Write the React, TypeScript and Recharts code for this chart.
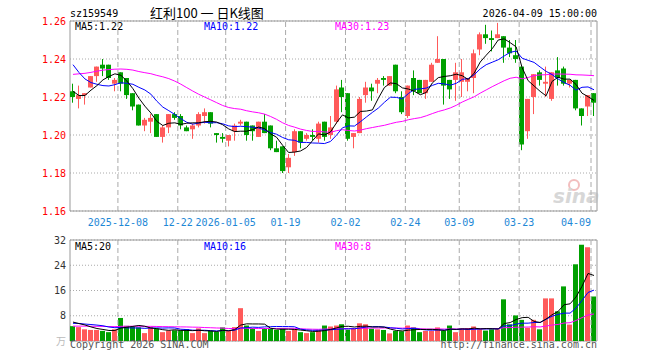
import React from "react";
import {
  ComposedChart,
  Bar,
  Line,
  XAxis,
  YAxis,
  CartesianGrid,
  ReferenceLine,
  ReferenceArea,
} from "recharts";

const RED = "#FF5A5A";
const GREEN = "#00A000";
const GRID = "#aaaaaa";
const FRAME = "#999999";
const MONO = '"DejaVu Sans Mono", monospace';
const CJK = '"Noto Sans CJK SC", sans-serif';

const PLOT_LEFT = 70;
const PLOT_RIGHT = 597;

// trading days shown
const dates = [
  "2025-11-26", "2025-11-27", "2025-11-28", "2025-12-01", "2025-12-02", "2025-12-03", "2025-12-04", "2025-12-05",
  "2025-12-08", "2025-12-09", "2025-12-10", "2025-12-11", "2025-12-12",
  "2025-12-15", "2025-12-16", "2025-12-17", "2025-12-18", "2025-12-19",
  "2025-12-22", "2025-12-23", "2025-12-24", "2025-12-25", "2025-12-26",
  "2025-12-29", "2025-12-30", "2025-12-31",
  "2026-01-05", "2026-01-06", "2026-01-07", "2026-01-08", "2026-01-09",
  "2026-01-12", "2026-01-13", "2026-01-14", "2026-01-15", "2026-01-16",
  "2026-01-19", "2026-01-20", "2026-01-21", "2026-01-22", "2026-01-23",
  "2026-01-26", "2026-01-27", "2026-01-28", "2026-01-29", "2026-01-30",
  "2026-02-02", "2026-02-03", "2026-02-04", "2026-02-05", "2026-02-06",
  "2026-02-09", "2026-02-10", "2026-02-11", "2026-02-12", "2026-02-13",
  "2026-02-24", "2026-02-25", "2026-02-26", "2026-02-27",
  "2026-03-02", "2026-03-03", "2026-03-04", "2026-03-05", "2026-03-06",
  "2026-03-09", "2026-03-10", "2026-03-11", "2026-03-12", "2026-03-13",
  "2026-03-16", "2026-03-17", "2026-03-18", "2026-03-19", "2026-03-20",
  "2026-03-23", "2026-03-24", "2026-03-25", "2026-03-26", "2026-03-27",
  "2026-03-30", "2026-03-31", "2026-04-01", "2026-04-02", "2026-04-03",
  "2026-04-07", "2026-04-08", "2026-04-09",
];

const opens = [
  1.223, 1.219, 1.221, 1.225, 1.231, 1.237, 1.237, 1.227, 1.233, 1.23,
  1.222, 1.216, 1.205, 1.207, 1.211, 1.199, 1.204, 1.211, 1.21, 1.204,
  1.203, 1.205, 1.21, 1.212, 1.201, 1.199, 1.197, 1.202, 1.206, 1.207,
  1.205, 1.199, 1.207, 1.205, 1.193, 1.194, 1.183, 1.191, 1.202, 1.198,
  1.2, 1.198, 1.207, 1.2, 1.207, 1.225, 1.222, 1.199, 1.201, 1.221,
  1.225, 1.227, 1.23, 1.226, 1.237, 1.22, 1.21, 1.23, 1.229, 1.222,
  1.228, 1.238, 1.24, 1.229, 1.229, 1.228, 1.228, 1.23, 1.245, 1.253,
  1.251, 1.251, 1.252, 1.246, 1.242, 1.236, 1.202, 1.22, 1.233, 1.227,
  1.219, 1.234, 1.235, 1.227, 1.229, 1.214, 1.215, 1.222,
];
const highs = [
  1.227, 1.226, 1.222, 1.231, 1.236, 1.24, 1.237, 1.23, 1.233, 1.23,
  1.222, 1.216, 1.209, 1.211, 1.211, 1.205, 1.211, 1.212, 1.211, 1.205,
  1.206, 1.212, 1.214, 1.212, 1.201, 1.201, 1.2, 1.206, 1.208, 1.207,
  1.205, 1.207, 1.211, 1.205, 1.197, 1.194, 1.19, 1.203, 1.202, 1.201,
  1.203, 1.207, 1.207, 1.21, 1.226, 1.229, 1.222, 1.201, 1.22, 1.228,
  1.227, 1.23, 1.231, 1.231, 1.237, 1.223, 1.226, 1.234, 1.229, 1.229,
  1.238, 1.252, 1.24, 1.229, 1.238, 1.24, 1.23, 1.245, 1.254, 1.258,
  1.255, 1.259, 1.252, 1.25, 1.25, 1.236, 1.219, 1.232, 1.234, 1.236,
  1.233, 1.241, 1.236, 1.229, 1.229, 1.214, 1.221, 1.222,
];
const lows = [
  1.217, 1.214, 1.216, 1.225, 1.228, 1.231, 1.229, 1.223, 1.223, 1.219,
  1.213, 1.205, 1.202, 1.201, 1.199, 1.196, 1.201, 1.208, 1.203, 1.202,
  1.198, 1.204, 1.206, 1.204, 1.196, 1.196, 1.194, 1.197, 1.205, 1.197,
  1.197, 1.199, 1.201, 1.192, 1.191, 1.18, 1.18, 1.189, 1.193, 1.197,
  1.197, 1.196, 1.197, 1.198, 1.206, 1.212, 1.197, 1.193, 1.201, 1.217,
  1.218, 1.222, 1.226, 1.226, 1.222, 1.211, 1.209, 1.221, 1.222, 1.219,
  1.228, 1.238, 1.216, 1.219, 1.218, 1.22, 1.223, 1.222, 1.242, 1.248,
  1.244, 1.251, 1.238, 1.241, 1.238, 1.192, 1.198, 1.211, 1.226, 1.22,
  1.218, 1.226, 1.226, 1.225, 1.213, 1.205, 1.21, 1.21,
];
const closes = [
  1.22, 1.221, 1.222, 1.231, 1.236, 1.235, 1.23, 1.229, 1.227, 1.221,
  1.215, 1.205, 1.208, 1.209, 1.199, 1.204, 1.211, 1.209, 1.205, 1.202,
  1.205, 1.211, 1.212, 1.206, 1.2, 1.198, 1.2, 1.205, 1.207, 1.2,
  1.202, 1.207, 1.201, 1.193, 1.191, 1.181, 1.188, 1.202, 1.196, 1.2,
  1.199, 1.206, 1.199, 1.204, 1.224, 1.22, 1.198, 1.201, 1.219, 1.225,
  1.223, 1.229, 1.229, 1.231, 1.223, 1.212, 1.226, 1.223, 1.222, 1.229,
  1.237, 1.24, 1.226, 1.224, 1.233, 1.233, 1.23, 1.243, 1.253, 1.251,
  1.25, 1.253, 1.246, 1.243, 1.24, 1.195, 1.219, 1.232, 1.229, 1.228,
  1.233, 1.23, 1.227, 1.229, 1.214, 1.21, 1.221, 1.217,
];
// volume, in 10k (万)
const volumes = [
  4.7, 4.4, 3.7, 3.5, 3.5, 3.2, 2.8, 3.7, 7.3, 4.8,
  4.5, 4.3, 2.5, 4.4, 3.9, 2.8, 3.3, 3.4, 3.4, 3.8,
  2.5, 4.0, 2.5, 3.2, 2.9, 4.3, 3.2, 4.4, 10.4, 4.9,
  4.1, 3.2, 4.1, 3.9, 3.5, 4.0, 3.2, 3.8, 2.8, 2.5,
  2.8, 3.5, 4.9, 4.6, 4.9, 5.3, 3.6, 3.8, 5.6, 5.3,
  3.9, 3.7, 3.5, 2.4, 3.2, 3.1, 4.9, 4.3, 2.8, 3.2,
  3.2, 4.3, 3.2, 4.9, 2.8, 4.0, 4.1, 4.6, 3.7, 3.3,
  3.7, 3.7, 13.2, 5.3, 8.1, 6.7, 4.2, 6.7, 3.7, 13.5,
  13.5, 9.4, 17.3, 5.2, 24.3, 30.5, 29.7, 14.1,
];

// the 29 sessions before the window, estimated from where the averages start
const closesBefore = [
  1.212, 1.214, 1.216, 1.217, 1.219, 1.221, 1.223, 1.224, 1.226, 1.227,
  1.228, 1.226, 1.225, 1.226, 1.226, 1.24, 1.248, 1.253, 1.257, 1.259,
  1.262, 1.256, 1.25, 1.245, 1.242, 1.232, 1.222, 1.217, 1.224,
];
const volumesBefore = [
  3.8, 4.2, 4.6, 4.0, 3.9, 4.4, 4.1, 4.5, 4.3, 3.9,
  4.6, 4.2, 4.0, 4.8, 4.3, 4.1, 4.4, 4.2, 4.5, 4.2,
  4.8, 5.6, 5.0, 5.3, 5.3, 6.8, 5.9, 6.6, 6.0,
];

const tickDates = [
  "2025-12-08", "2025-12-22", "2026-01-05", "2026-01-19", "2026-02-02",
  "2026-02-24", "2026-03-09", "2026-03-23", "2026-04-09",
];
const tickLabels = [
  "2025-12-08", "12-22", "2026-01-05", "01-19", "02-02",
  "02-24", "03-09", "03-23", "04-09",
];
const priceTicks = [1.16, 1.18, 1.2, 1.22, 1.24, 1.26];
const volumeTicks = [0, 8, 16, 24, 32];

function movingAverage(values: number[], before: number[], n: number) {
  const all = [...before, ...values];
  return values.map((_, i) => {
    const end = before.length + i + 1;
    const win = all.slice(Math.max(0, end - n), end);
    return win.reduce((a, b) => a + b, 0) / win.length;
  });
}

const ma5 = movingAverage(closes, closesBefore, 5);
const ma10 = movingAverage(closes, closesBefore, 10);
const ma30 = movingAverage(closes, closesBefore, 30);
const vma5 = movingAverage(volumes, volumesBefore, 5);
const vma10 = movingAverage(volumes, volumesBefore, 10);
const vma30 = movingAverage(volumes, volumesBefore, 30);

const rows = dates.map((date, i) => ({
  date,
  open: opens[i],
  high: highs[i],
  low: lows[i],
  close: closes[i],
  volume: volumes[i],
  ma5: ma5[i],
  ma10: ma10[i],
  ma30: ma30[i],
  vma5: vma5[i],
  vma10: vma10[i],
  vma30: vma30[i],
}));

const last = rows.length - 1;
const HALF_BAND = (PLOT_RIGHT - PLOT_LEFT) / dates.length / 2;

function Candle(props: any) {
  const { x, y, width, height, payload } = props;
  const top = Math.min(y, y + height);
  const h = Math.abs(height);
  const { open, close, high, low } = payload;
  const color = close >= open ? RED : GREEN;
  const toY = (p: number) => top + ((high - p) / (high - low)) * h;
  const left = Math.round(x);
  const w = Math.round(width);
  const cx = left + Math.floor(w / 2) + 0.5;
  const bodyTop = toY(Math.max(open, close));
  const bodyBottom = toY(Math.min(open, close));
  return (
    <g>
      <line x1={cx} x2={cx} y1={top} y2={top + h} stroke={color} strokeWidth={1} />
      <rect x={left} y={bodyTop} width={w} height={Math.max(1, bodyBottom - bodyTop)} fill={color} />
    </g>
  );
}

function VolumeBar(props: any) {
  const { x, y, width, height, payload } = props;
  const color = payload.close >= payload.open ? RED : GREEN;
  return <rect x={Math.round(x)} y={y} width={Math.round(width)} height={height} fill={color} />;
}

function DateTick(props: any) {
  const { x, y, payload } = props;
  const k = tickDates.indexOf(payload.value);
  const gx = x - HALF_BAND;
  const isLast = k === tickDates.length - 1;
  return (
    <text
      x={gx}
      y={y}
      dy="0.71em"
      textAnchor={isLast ? "end" : "middle"}
      fill="#1E88D6"
      fontSize={10}
      fontFamily={MONO}
    >
      {tickLabels[k]}
    </text>
  );
}

function VolumeTick(props: any) {
  const { x, y, payload } = props;
  if (payload.value === 0) {
    return (
      <text x={x} y={y} dy="0.4em" textAnchor="end" fill="#bbbbbb" fontSize={10} fontFamily={CJK}>
        万
      </text>
    );
  }
  return (
    <text x={x} y={y} dy="0.355em" textAnchor="end" fill="#333333" fontSize={10} fontFamily={MONO}>
      {payload.value}
    </text>
  );
}

export default function App() {
  return (
    <div style={{ position: "absolute", left: 0, top: 0, width: 660, height: 360, background: "#fff" }}>
      <div style={{ position: "absolute", left: 0, top: 0 }}>
        <ComposedChart
          width={660}
          height={230}
          data={rows}
          margin={{ top: 21, right: 660 - PLOT_RIGHT, bottom: 0, left: PLOT_LEFT - 60 }}
        >
          <CartesianGrid vertical={false} stroke={GRID} strokeDasharray="1 2" />
          {tickDates.map((d) => (
            <ReferenceLine key={d} x={d} position="start" stroke={GRID} strokeDasharray="5 3" />
          ))}
          <XAxis
            dataKey="date"
            ticks={tickDates}
            interval={0}
            tickLine={false}
            axisLine={false}
            height={19}
            tick={<DateTick />}
          />
          <YAxis
            domain={[1.16, 1.26]}
            ticks={priceTicks}
            interval={0}
            width={60}
            allowDataOverflow
            tickLine={false}
            axisLine={false}
            tickSize={4}
            tickMargin={0}
            tick={{ fill: "#FF0000", fontSize: 10, fontFamily: MONO }}
            tickFormatter={(v: number) => v.toFixed(2)}
          />
          <Bar
            dataKey={(d: any) => [d.low, d.high]}
            barSize={5}
            shape={(p: any) => <Candle {...p} />}
            isAnimationActive={false}
          />
          <Line dataKey="ma30" stroke="#FF00FF" strokeWidth={1} dot={false} activeDot={false} isAnimationActive={false} />
          <Line dataKey="ma10" stroke="#0000FF" strokeWidth={1} dot={false} activeDot={false} isAnimationActive={false} />
          <Line dataKey="ma5" stroke="#000000" strokeWidth={1} dot={false} activeDot={false} isAnimationActive={false} />
          <ReferenceArea y1={1.16} y2={1.26} fill="none" stroke={FRAME} strokeWidth={1} ifOverflow="visible" />
        </ComposedChart>
      </div>

      <div style={{ position: "absolute", left: 0, top: 230 }}>
        <ComposedChart
          width={660}
          height={130}
          data={rows}
          margin={{ top: 10, right: 660 - PLOT_RIGHT, bottom: 19, left: PLOT_LEFT - 60 }}
        >
          <CartesianGrid vertical={false} stroke={GRID} strokeDasharray="1 2" />
          {tickDates.map((d) => (
            <ReferenceLine key={d} x={d} position="start" stroke={GRID} strokeDasharray="5 3" />
          ))}
          <XAxis dataKey="date" hide />
          <YAxis
            domain={[0, 32]}
            ticks={volumeTicks}
            interval={0}
            width={60}
            allowDataOverflow
            tickLine={false}
            axisLine={false}
            tickSize={4}
            tickMargin={0}
            tick={<VolumeTick />}
          />
          <Bar dataKey="volume" barSize={5} shape={(p: any) => <VolumeBar {...p} />} isAnimationActive={false} />
          <Line dataKey="vma30" stroke="#FF00FF" strokeWidth={1} dot={false} activeDot={false} isAnimationActive={false} />
          <Line dataKey="vma10" stroke="#0000FF" strokeWidth={1} dot={false} activeDot={false} isAnimationActive={false} />
          <Line dataKey="vma5" stroke="#000000" strokeWidth={1} dot={false} activeDot={false} isAnimationActive={false} />
          <ReferenceArea y1={0} y2={32} fill="none" stroke={FRAME} strokeWidth={1} ifOverflow="visible" />
        </ComposedChart>
      </div>

      <svg
        width={660}
        height={360}
        style={{ position: "absolute", left: 0, top: 0, pointerEvents: "none" }}
      >
        <g fontFamily={MONO} fontSize={10}>
          <text x={70} y={17} fill="#000">sz159549</text>
          <text x={597} y={17} fill="#000" textAnchor="end">2026-04-09 15:00:00</text>

          <text x={75} y={30} fill="#000">{`MA5:${ma5[last].toFixed(2)}`}</text>
          <text x={204} y={30} fill="#0000FF">{`MA10:${ma10[last].toFixed(2)}`}</text>
          <text x={335} y={30} fill="#FF00FF">{`MA30:${ma30[last].toFixed(2)}`}</text>

          <text x={75} y={250} fill="#000">{`MA5:${Math.floor(vma5[last])}`}</text>
          <text x={204} y={250} fill="#0000FF">{`MA10:${Math.floor(vma10[last])}`}</text>
          <text x={335} y={250} fill="#FF00FF">{`MA30:${Math.floor(vma30[last])}`}</text>

          <text x={70} y={348} fill="#555">Copyright 2026 SINA.COM</text>
          <text x={597} y={348} fill="#555" textAnchor="end">http://finance.sina.com.cn</text>
        </g>
        <text x={150} y={18} fontFamily={CJK} fontSize={13} fill="#000">红利100 一 日K线图</text>

        <g opacity={0.55}>
          <circle cx={574} cy={185} r={5} fill="none" stroke="#E88A8A" strokeWidth={2} />
          <text x={553} y={203} fontFamily='"DejaVu Sans", sans-serif' fontSize={20} fontStyle="italic" fontWeight="bold" fill="#B8B8B8">
            sina
          </text>
        </g>
      </svg>
    </div>
  );
}
